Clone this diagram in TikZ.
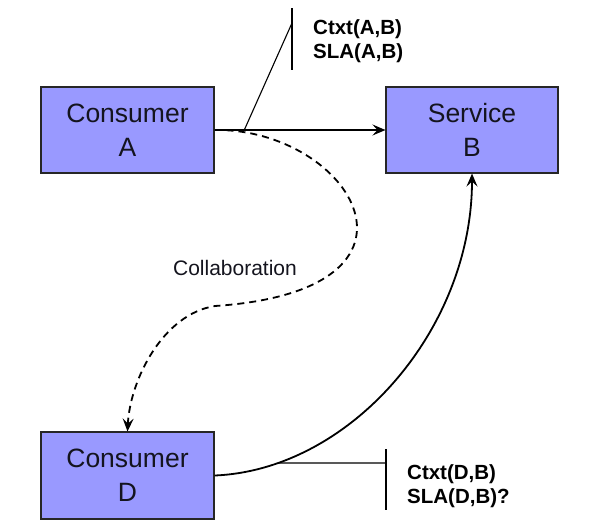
\documentclass[tikz,border=0pt]{standalone}
\usepackage{fontspec}
\setmainfont{Liberation Sans}
\usetikzlibrary{arrows.meta}
\definecolor{boxfill}{RGB}{153,153,255}
\definecolor{txt}{RGB}{20,20,30}
\begin{document}
\begin{tikzpicture}[x=1pt,y=-1pt,
  box/.style={draw=black!85, line width=1.1pt, fill=boxfill, minimum width=173pt, minimum height=86pt, inner sep=0pt, align=center, font=\fontsize{26.5}{34}\selectfont, text=txt},
  conn/.style={line width=1.8pt, -{Stealth[length=13pt,width=11pt,inset=5pt]}},
  dashconn/.style={conn, dash pattern=on 7pt off 5pt},
  note/.style={font=\bfseries\fontsize{20.5}{24}\selectfont, align=left, anchor=west, inner sep=0pt, text=black},
  annline/.style={line width=1.1pt},
  lbl/.style={font=\fontsize{21}{25}\selectfont, text=txt, inner sep=0pt}]
\useasboundingbox (0,0) rectangle (593,528);
\node[box] (A) at (127.5,130) {Consumer\\A};
\node[box, minimum width=172pt] (B) at (472,130) {Service\\B};
\node[box, minimum height=87pt] (D) at (127.5,475.5) {Consumer\\D};
% A -> B
\draw[conn] (A.east) -- (B.west) coordinate[pos=0.174] (p1);
% collaboration A -> D
\coordinate (m) at (215,306);
\draw[dashconn] (A.east) .. controls (350,128) and (452,290) .. (m)
  .. controls (163,314) and (130,380) .. (D.north);
\node[lbl] (collab) at (235,268) {Collaboration};
% D -> B
\draw[conn] (D.east) .. controls (350,470) and (472,330) .. (B.south) coordinate[pos=0.16] (p2);
% top annotation
\node[note] (n1) at (313,41) {Ctxt(A,B)\\SLA(A,B)};
\coordinate (v1t) at (292,8);
\coordinate (v1b) at (292,70);
\coordinate (q1) at (292,23);
\draw[annline] (v1t) -- (v1b);
\draw[annline] (p1) -- (q1);
% bottom annotation
\node[note] (n2) at (407,486) {Ctxt(D,B)\\SLA(D,B)?};
\coordinate (v2t) at (386,449);
\coordinate (v2b) at (386,510);
\coordinate (q2) at (386,463);
\draw[annline] (v2t) -- (v2b);
\draw[annline] (p2) -- (q2);
\end{tikzpicture}
\end{document}
